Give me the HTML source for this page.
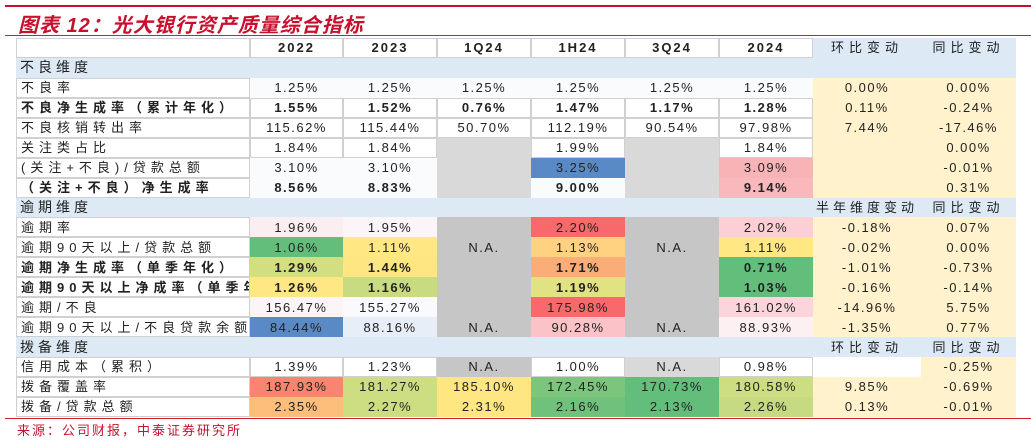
<!DOCTYPE html>
<html><head><meta charset="utf-8"><style>
body{margin:0;width:1031px;height:441px;background:#fff;position:relative;overflow:hidden;font-family:"Liberation Sans","Noto Sans CJK SC",sans-serif;}
.l1{position:absolute;left:5px;top:5px;width:1026px;height:2px;background:#c8102e;}
.l2{position:absolute;left:5px;top:35px;width:1026px;height:1px;background:#d0202e;}
.l3{position:absolute;left:5px;top:418px;width:1026px;height:1px;background:#d0202e;}
.title{position:absolute;left:18px;top:9px;font-size:20px;font-weight:bold;font-style:italic;color:#c8102e;letter-spacing:1px;}
.src{position:absolute;left:17px;top:420px;font-size:13px;color:#c8102e;letter-spacing:2px;}
table{position:absolute;left:16px;top:38px;border-collapse:separate;border-spacing:0;table-layout:fixed;width:1000px;font-size:13px;color:#222;}
tr{height:19.95px;}
td{height:19.95px;padding:0;text-align:center;white-space:nowrap;overflow:hidden;letter-spacing:1.5px;line-height:15px;box-sizing:border-box;}
td.lb{text-align:left;padding-left:4px;letter-spacing:5px;border:1px solid #d0d0d0;background:#fff;}
.w{background:#fff;border:1px solid #d0d0d0;}
.sec td{background:#dde9f5;}
.sec td.s{text-align:left;padding-left:4px;letter-spacing:4px;font-size:14px;}
.hd td.y{font-weight:bold;border:1px solid #d0d0d0;background:#fff;letter-spacing:2px;}
.b{font-weight:bold;}
.yl{background:#fff2cc;}
.bl{background:#dde9f5;letter-spacing:5px;}
.g1{background:#d9d9d9;}
.g2{background:#c6c6c6;}
</style></head><body>
<div class="l1"></div><div class="title">图表 12：光大银行资产质量综合指标</div><div class="l2"></div>
<table>
<colgroup><col style="width:234px"><col style="width:93px"><col style="width:94px"><col style="width:94px"><col style="width:94px"><col style="width:94px"><col style="width:94px"><col style="width:108px"><col style="width:95px"></colgroup>
<tr class="hd"><td class="lb"></td><td class="y">2022</td><td class="y">2023</td><td class="y">1Q24</td><td class="y">1H24</td><td class="y">3Q24</td><td class="y">2024</td><td class="bl">环比变动</td><td class="bl">同比变动</td></tr>
<tr class="sec"><td class="s">不良维度</td><td></td><td></td><td></td><td></td><td></td><td></td><td></td><td></td></tr>
<tr><td class="lb">不良率</td><td style="background:#fafbfd">1.25%</td><td style="background:#fafbfd">1.25%</td><td style="background:#fafbfd">1.25%</td><td style="background:#fafbfd">1.25%</td><td style="background:#fafbfd">1.25%</td><td style="background:#fafbfd">1.25%</td><td class="yl">0.00%</td><td class="yl">0.00%</td></tr>
<tr class="b"><td class="lb">不良净生成率（累计年化）</td><td class="w">1.55%</td><td class="w">1.52%</td><td class="w">0.76%</td><td class="w">1.47%</td><td class="w">1.17%</td><td class="w">1.28%</td><td class="yl" style="font-weight:normal">0.11%</td><td class="yl" style="font-weight:normal">-0.24%</td></tr>
<tr><td class="lb">不良核销转出率</td><td class="w">115.62%</td><td class="w">115.44%</td><td class="w">50.70%</td><td class="w">112.19%</td><td class="w">90.54%</td><td class="w">97.98%</td><td class="yl">7.44%</td><td class="yl">-17.46%</td></tr>
<tr><td class="lb">关注类占比</td><td class="w">1.84%</td><td class="w">1.84%</td><td class="g1"></td><td class="w">1.99%</td><td class="g1"></td><td class="w">1.84%</td><td class="yl"></td><td class="yl">0.00%</td></tr>
<tr><td class="lb">(关注+不良)/贷款总额</td><td style="background:#fafbfd">3.10%</td><td style="background:#fafbfd">3.10%</td><td class="g1"></td><td style="background:#5a8ac6">3.25%</td><td class="g1"></td><td style="background:#f8b3b7">3.09%</td><td class="yl"></td><td class="yl">-0.01%</td></tr>
<tr class="b"><td class="lb">（关注+不良）净生成率</td><td style="background:#fafbfd">8.56%</td><td style="background:#fafbfd">8.83%</td><td class="g1"></td><td style="background:#fafbfd">9.00%</td><td class="g1"></td><td style="background:#f8b8bc">9.14%</td><td class="yl"></td><td class="yl" style="font-weight:normal">0.31%</td></tr>
<tr class="sec"><td class="s">逾期维度</td><td></td><td></td><td></td><td></td><td></td><td></td><td style="letter-spacing:4px">半年维度变动</td><td style="letter-spacing:5px">同比变动</td></tr>
<tr><td class="lb">逾期率</td><td style="background:#fbeef1">1.96%</td><td style="background:#fbf5f8">1.95%</td><td class="g2"></td><td style="background:#f8696b">2.20%</td><td class="g2"></td><td style="background:#fbcfd3">2.02%</td><td class="yl">-0.18%</td><td class="yl">0.07%</td></tr>
<tr><td class="lb">逾期90天以上/贷款总额</td><td style="background:#63be7b">1.06%</td><td style="background:#ffe884">1.11%</td><td class="g2">N.A.</td><td style="background:#fed280">1.13%</td><td class="g2">N.A.</td><td style="background:#ffe884">1.11%</td><td class="yl">-0.02%</td><td class="yl">0.00%</td></tr>
<tr class="b"><td class="lb">逾期净生成率（单季年化）</td><td style="background:#d2df81">1.29%</td><td style="background:#fee683">1.44%</td><td class="g2"></td><td style="background:#fbad78">1.71%</td><td class="g2"></td><td style="background:#63be7b">0.71%</td><td class="yl" style="font-weight:normal">-1.01%</td><td class="yl" style="font-weight:normal">-0.73%</td></tr>
<tr class="b"><td class="lb">逾期90天以上净成率（单季年化）</td><td style="background:#ffe884">1.26%</td><td style="background:#c8db81">1.16%</td><td class="g2"></td><td style="background:#e1e282">1.19%</td><td class="g2"></td><td style="background:#63be7b">1.03%</td><td class="yl" style="font-weight:normal">-0.16%</td><td class="yl" style="font-weight:normal">-0.14%</td></tr>
<tr><td class="lb">逾期/不良</td><td style="background:#fcf5f7">156.47%</td><td style="background:#fafafc">155.27%</td><td class="g2"></td><td style="background:#f8696b">175.98%</td><td class="g2"></td><td style="background:#fbd5d9">161.02%</td><td class="yl">-14.96%</td><td class="yl">5.75%</td></tr>
<tr><td class="lb">逾期90天以上/不良贷款余额</td><td style="background:#5a8ac6">84.44%</td><td style="background:#e8eef7">88.16%</td><td class="g2">N.A.</td><td style="background:#fbc3c7">90.28%</td><td class="g2">N.A.</td><td style="background:#fcf0f2">88.93%</td><td class="yl">-1.35%</td><td class="yl">0.77%</td></tr>
<tr class="sec"><td class="s">拨备维度</td><td></td><td></td><td></td><td></td><td></td><td></td><td style="letter-spacing:5px">环比变动</td><td style="letter-spacing:5px">同比变动</td></tr>
<tr><td class="lb">信用成本（累积）</td><td class="w">1.39%</td><td class="w">1.23%</td><td class="g2">N.A.</td><td class="w">1.00%</td><td class="g1">N.A.</td><td class="w">0.98%</td><td style="background:#fff"></td><td class="yl">-0.25%</td></tr>
<tr><td class="lb">拨备覆盖率</td><td style="background:#f98570">187.93%</td><td style="background:#cddd82">181.27%</td><td style="background:#fee783">185.10%</td><td style="background:#7cc57d">172.45%</td><td style="background:#63be7b">170.73%</td><td style="background:#cddd82">180.58%</td><td class="yl">9.85%</td><td class="yl">-0.69%</td></tr>
<tr><td class="lb">拨备/贷款总额</td><td style="background:#fdbd7b">2.35%</td><td style="background:#cddd82">2.27%</td><td style="background:#fee783">2.31%</td><td style="background:#70c17c">2.16%</td><td style="background:#63be7b">2.13%</td><td style="background:#c6db81">2.26%</td><td class="yl">0.13%</td><td class="yl">-0.01%</td></tr>
</table>
<div class="l3"></div>
<div class="src">来源：公司财报，中泰证券研究所</div>
</body></html>
